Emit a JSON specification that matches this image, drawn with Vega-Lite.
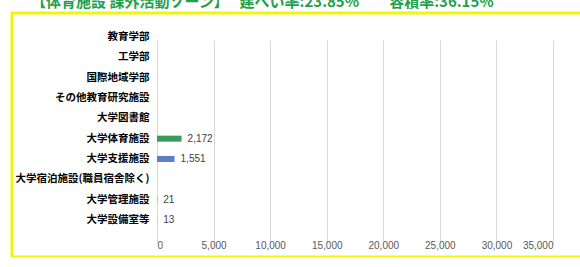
{
  "$schema": "https://vega.github.io/schema/vega-lite/v6.json",
  "width": 575,
  "height": 244,
  "autosize": {"type": "none"},
  "padding": {"left": 12, "top": 13, "right": 0, "bottom": 0},
  "background": "white",
  "title": {
    "text": "【体育施設 課外活動ゾーン】　 建ぺい率:23.85%　　容積率:36.15%",
    "anchor": "start",
    "dx": 19,
    "offset": 3,
    "font": "Noto Sans CJK JP",
    "fontSize": 15,
    "fontWeight": "bold",
    "color": "#23a04c"
  },
  "data": {
    "values": [
      {"施設": "教育学部", "面積": 0},
      {"施設": "工学部", "面積": 0},
      {"施設": "国際地域学部", "面積": 0},
      {"施設": "その他教育研究施設", "面積": 0},
      {"施設": "大学図書館", "面積": 0},
      {"施設": "大学体育施設", "面積": 2172},
      {"施設": "大学支援施設", "面積": 1551},
      {"施設": "大学宿泊施設(職員宿舎除く)", "面積": 0},
      {"施設": "大学管理施設", "面積": 21},
      {"施設": "大学設備室等", "面積": 13}
    ]
  },
  "encoding": {
    "y": {
      "field": "施設",
      "type": "nominal",
      "sort": null,
      "scale": {"range": [14, 217], "paddingInner": 0, "paddingOuter": 0},
      "axis": {
        "title": null,
        "orient": "left",
        "offset": -145,
        "domain": false,
        "ticks": false,
        "labelPadding": 8,
        "labelFont": "Noto Sans CJK JP",
        "labelFontSize": 10.5,
        "labelFontWeight": "bold",
        "labelColor": "#000000",
        "labelLimit": 300
      }
    },
    "x": {
      "field": "面積",
      "type": "quantitative",
      "scale": {"domain": [0, 35000], "range": [145, 541], "nice": false},
      "axis": {
        "title": null,
        "orient": "bottom",
        "offset": -19,
        "values": [0, 5000, 10000, 15000, 20000, 25000, 30000, 35000],
        "format": ",.0f",
        "domain": false,
        "ticks": false,
        "labelPadding": 2,
        "labelFont": "Liberation Sans",
        "labelFontSize": 10,
        "labelColor": "#595959",
        "grid": true,
        "gridColor": "#d9d9d9",
        "gridWidth": 1
      }
    }
  },
  "layer": [
    {
      "mark": {"type": "bar", "size": 6},
      "encoding": {
        "color": {
          "field": "施設",
          "type": "nominal",
          "scale": {
            "domain": ["大学体育施設", "大学支援施設", "大学管理施設", "大学設備室等"],
            "range": ["#3a9a60", "#5a80c2", "#5a80c2", "#5a80c2"]
          },
          "legend": null
        }
      }
    },
    {
      "transform": [{"filter": "datum['面積'] > 0"}],
      "mark": {"type": "text", "align": "left", "dx": 6, "font": "Liberation Sans", "fontSize": 10, "color": "#404040"},
      "encoding": {
        "text": {"field": "面積", "type": "quantitative", "format": ",.0f"}
      }
    }
  ],
  "config": {
    "view": {"stroke": "#f3f30c", "strokeWidth": 3, "fill": "white"}
  }
}
